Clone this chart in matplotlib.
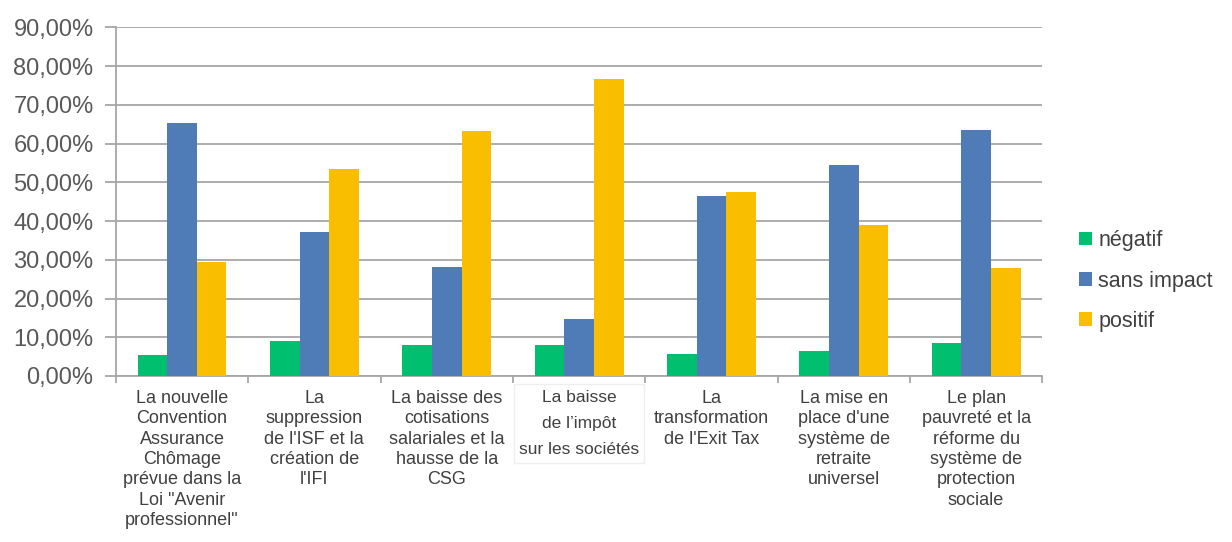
import numpy as np
import matplotlib.pyplot as plt
from matplotlib.ticker import FuncFormatter, FixedLocator

plt.rcParams['font.family'] = ['Liberation Sans', 'DejaVu Sans']

categories = [
    "La nouvelle\nConvention\nAssurance\nChômage\nprévue dans la\nLoi \"Avenir\nprofessionnel\"",
    "La\nsuppression\nde l'ISF et la\ncréation de\nl'IFI",
    "La baisse des\ncotisations\nsalariales et la\nhausse de la\nCSG",
    "La baisse\nde l’impôt\nsur les sociétés",
    "La\ntransformation\nde l'Exit Tax",
    "La mise en\nplace d'une\nsystème de\nretraite\nuniversel",
    "Le plan\npauvreté et la\nréforme du\nsystème de\nprotection\nsociale",
]
negatif = [5.4, 9.0, 8.1, 8.1, 5.8, 6.4, 8.6]
sans_impact = [65.2, 37.1, 28.2, 14.8, 46.5, 54.5, 63.4]
positif = [29.5, 53.5, 63.3, 76.7, 47.4, 38.9, 27.8]

series = [("négatif", negatif, "#00BF6F"),
          ("sans impact", sans_impact, "#4F7CB6"),
          ("positif", positif, "#F9BE00")]

fig = plt.figure(figsize=(12.32, 5.42), dpi=100)
ax = fig.add_axes([0.094, 0.3063, 0.752, 0.6433])

x = np.arange(len(categories))
w = 0.224
for k, (name, vals, col) in enumerate(series):
    ax.bar(x + (k - 1) * w, vals, w, color=col, label=name, zorder=3)

ax.set_xlim(-0.5, len(categories) - 0.5)
ax.set_ylim(0, 90)
ax.set_yticks(np.arange(0, 91, 10))
ax.yaxis.set_major_formatter(FuncFormatter(lambda v, p: f"{v:.2f}%".replace(".", ",")))
ax.grid(axis="y", color="#A6A6A6", linewidth=1.3, zorder=0)

for s in ["top", "right"]:
    ax.spines[s].set_visible(False)
for s in ["left", "bottom"]:
    ax.spines[s].set_color("#A6A6A6")
    ax.spines[s].set_linewidth(1.3)

ax.tick_params(axis="y", colors="#A6A6A6", length=8, width=1.3, pad=8,
               labelcolor="#595959", labelsize=17)
ax.xaxis.set_minor_locator(FixedLocator(np.arange(-0.5, len(categories), 1)))
ax.tick_params(axis="x", which="minor", length=5, width=1.3, color="#A6A6A6")
ax.set_xticks([])

# category labels below the axis
for i, lab in enumerate(categories):
    if i == 3:
        ax.text(i, -3.5, lab, ha="center", va="top", fontsize=12.5,
                color="#404040", linespacing=1.95,
                bbox=dict(boxstyle="square,pad=0.3", fc="white", ec="#EEEEEE", lw=1))
    else:
        ax.text(i, -3.6, lab, ha="center", va="top", fontsize=13,
                color="#404040", linespacing=1.26)

leg = fig.legend(loc="center left", bbox_to_anchor=(0.86, 0.4815), frameon=False,
                 fontsize=15.5, handlelength=0.6, handleheight=0.6,
                 handletextpad=0.3, labelspacing=0.9)
for t in leg.get_texts():
    t.set_color("#404040")

fig.savefig("out.png", dpi=100)
